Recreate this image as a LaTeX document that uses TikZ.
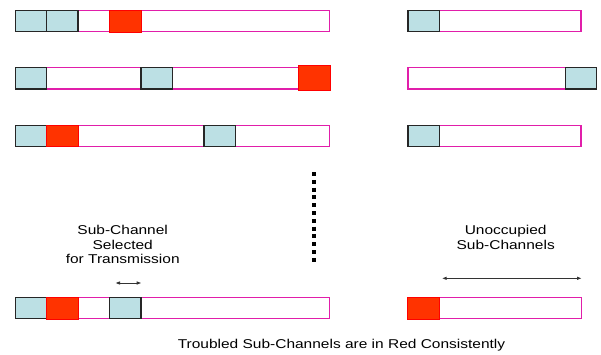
\documentclass[tikz,border=0pt]{standalone}
\usepackage{fontspec}
\setmainfont{Liberation Sans}
\usetikzlibrary{arrows.meta}
\definecolor{cellblue}{RGB}{188,224,228}
\definecolor{redfill}{RGB}{255,51,0}
\definecolor{barpink}{RGB}{225,30,170}
\tikzset{
 bar/.style={draw=barpink, line width=1.1pt, rectangle, inner sep=0pt, outer sep=0pt, minimum height=21.3pt, anchor=north west, fill=white},
 bluecell/.style={draw=black!85, fill=cellblue, line width=1.3pt, inner sep=0pt, outer sep=0pt, minimum width=31.4pt, minimum height=21.3pt, anchor=north west},
 redcell/.style={draw=red, fill=redfill, line width=0.6pt, inner sep=0pt, outer sep=0pt, minimum width=31.4pt, minimum height=21.3pt, anchor=north west},
 lbl/.style={font=\fontsize{12.8}{14.5}\selectfont, align=center, xscale=1.21},
 dbl/.style={{Latex[length=5pt,width=3.6pt]}-{Latex[length=5pt,width=3.6pt]}, line width=1pt, black!80}
}
\begin{document}
\begin{tikzpicture}[x=1pt,y=-1pt]
\useasboundingbox (0,0) rectangle (601,354);
% Row 1
\node[bar, minimum width=314.4pt] (b1) at (15.3,10.5) {};
\node[bluecell] (c11) at (15.3,10.5) {};
\node[bluecell] (c12) at (46.7,10.5) {};
\node[redcell] (r11) at (109.6,10.5) {};
\node[bar, minimum width=173pt] (rb1) at (408,10.5) {};
\node[bluecell] (rc1) at (408,10.5) {};
% Row 2
\node[bar, minimum width=314.4pt] (b2) at (15.3,67.7) {};
\node[bluecell] (c21) at (15.3,67.7) {};
\node[bluecell] (c22) at (141.1,67.7) {};
\node[redcell, minimum width=32.4pt, minimum height=25pt] (r21) at (298.3,65.7) {};
\node[bar, minimum width=173pt] (rb2) at (408,67.7) {};
\node[bluecell] (rc2) at (565.3,67.7) {};
% Row 3
\node[bar, minimum width=314.4pt] (b3) at (15.3,125.3) {};
\node[bluecell] (c31) at (15.3,125.3) {};
\node[redcell] (r31) at (46.7,125.3) {};
\node[bluecell] (c32) at (203.9,125.3) {};
\node[bar, minimum width=173pt] (rb3) at (408,125.3) {};
\node[bluecell] (rc3) at (408,125.3) {};
% Row 4
\node[bar, minimum width=314.4pt] (b4) at (15.3,297.5) {};
\node[bluecell] (c41) at (15.3,297.5) {};
\node[redcell] (r41) at (46.7,297.5) {};
\node[bluecell] (c42) at (109.6,297.5) {};
\node[bar, minimum width=173.6pt] (rb4) at (407.7,297.5) {};
\node[redcell] (r42) at (407.7,297.5) {};
% dotted separator
\coordinate (d1) at (314,172);
\coordinate (d2) at (314,262);
\draw[line width=4pt, dash pattern=on 4pt off 3.8pt] (d1) -- (d2);
% arrows
\coordinate (a1) at (115,283);
\coordinate (a2) at (141.7,283);
\coordinate (a3) at (441.7,278.3);
\coordinate (a4) at (582,278.3);
\draw[dbl] (a1) -- (a2);
\draw[dbl] (a3) -- (a4);
% labels
\node[lbl] (sel) at (122.7,244.5) {Sub-Channel\\Selected\\for Transmission};
\node[lbl] (unocc) at (505.7,237.2) {Unoccupied\\Sub-Channels};
\node[lbl] (note) at (341.5,345) {Troubled Sub-Channels are in Red Consistently};
\end{tikzpicture}
\end{document}
